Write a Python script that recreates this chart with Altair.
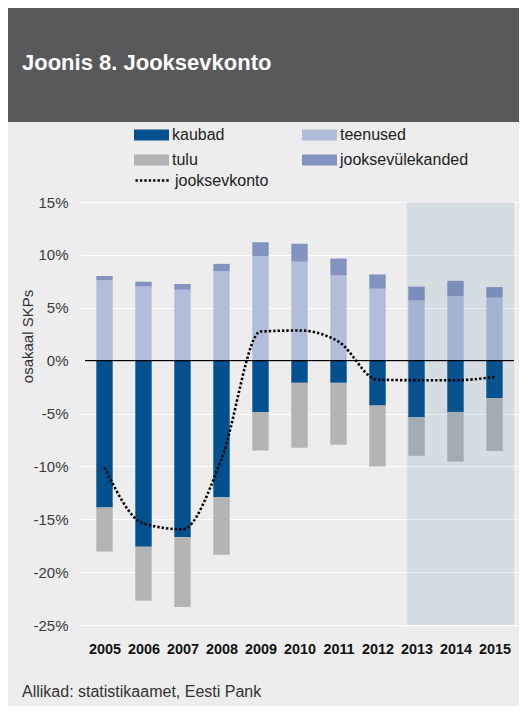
import altair as alt
import pandas as pd

FONT = "Liberation Sans"

# ---------------- data (percent of GDP) ----------------
years = [2005, 2006, 2007, 2008, 2009, 2010, 2011, 2012, 2013, 2014, 2015]
kaubad = [-13.9, -17.6, -16.7, -12.9, -4.85, -2.1, -2.1, -4.25, -5.35, -4.85, -3.55]
teenused = [7.6, 7.0, 6.7, 8.45, 9.9, 9.35, 8.05, 6.8, 5.7, 6.1, 5.95]
tulu = [-4.15, -5.1, -6.6, -5.45, -3.65, -6.15, -5.85, -5.75, -3.65, -4.7, -5.0]
ylekanded = [0.4, 0.45, 0.55, 0.7, 1.3, 1.7, 1.6, 1.35, 1.3, 1.45, 1.0]
jooksevkonto = [-10.1, -15.4, -15.95, -9.3, 2.75, 2.85, 1.8, -1.8, -1.85, -1.85, -1.55]

series = ["kaubad", "teenused", "tulu", "jooksevülekanded"]
series_colors = ["#02508e", "#b2bdd9", "#b3b4b6", "#8293bf"]
y_ticks = [-25, -20, -15, -10, -5, 0, 5, 10, 15]
forecast_start = 2012.75
x_min, x_max = 2004.5, 2015.5
title_text = "Joonis 8. Jooksevkonto"
source_text = "Allikad: statistikaamet, Eesti Pank"
y_title = "osakaal SKPs"

# ---------------- tables ----------------
rows = []
for name, vals in zip(series, [kaubad, teenused, tulu, ylekanded]):
    for yr, v in zip(years, vals):
        rows.append({"aasta": yr, "seeria": name, "väärtus": v, "järjekord": series.index(name)})
bar_df = pd.DataFrame(rows)
line_df = pd.DataFrame({"aasta": years, "jooksevkonto": jooksevkonto, "nimi": ["jooksevkonto"] * len(years)})
shade_df = pd.DataFrame({"algus": [forecast_start], "lõpp": [x_max], "ülemine": [y_ticks[-1]], "alumine": [y_ticks[0]]})
zero_df = pd.DataFrame({"algus": [x_min], "lõpp": [x_max], "null": [0]})
header_df = pd.DataFrame({"pealkiri": [title_text]})

W = 511
H_HEAD = 114
H_MAIN = 543
X_RANGE = [72, 511]
Y_RANGE = [503, 80]

xscale = alt.Scale(domain=[x_min, x_max], range=X_RANGE, nice=False, zero=False)
yscale = alt.Scale(domain=[y_ticks[0], y_ticks[-1]], range=Y_RANGE, nice=False, zero=False)

xaxis = alt.Axis(
    title=None, values=years, format="d", grid=False, domain=False, ticks=False, tickSize=0,
    offset=-(H_MAIN - Y_RANGE[0]), labelPadding=17, labelFont=FONT, labelFontSize=14.4,
    labelFontWeight="bold", labelColor="#111111", labelFlush=False, labelOverlap=False,
)
yaxis = alt.Axis(
    title=y_title, values=y_ticks, labelExpr="datum.value + '%'", grid=True, gridColor="#ffffff",
    gridWidth=1.2, domain=False, ticks=False, tickSize=0, offset=-X_RANGE[0], labelPadding=12,
    labelFont=FONT, labelFontSize=15, labelColor="#3c3c3c",
    titleFont=FONT, titleFontSize=15, titleFontWeight="normal", titleColor="#333333",
    titleAngle=270, titleX=-52.5, titleY=214, titleAlign="center", titleBaseline="middle",
)

bars = alt.Chart(bar_df).mark_bar(width=16.4).encode(
    x=alt.X("aasta:Q", scale=xscale, axis=xaxis),
    y=alt.Y("väärtus:Q", scale=yscale, axis=yaxis, stack="zero", title=y_title),
    color=alt.Color(
        "seeria:N",
        scale=alt.Scale(domain=series, range=series_colors),
        legend=alt.Legend(
            title=None, orient="none", legendX=133.5, legendY=117, columns=2, direction="horizontal",
            columnPadding=77, rowPadding=7, padding=0,
            symbolType="M-1.75,-0.55H1.75V0.55H-1.75Z", symbolSize=400,
            symbolStrokeWidth=0, labelOffset=10.5, labelFont=FONT, labelFontSize=16,
            labelColor="#222222", labelLimit=300,
        ),
    ),
    order=alt.Order("järjekord:Q"),
)

shade = alt.Chart(shade_df).mark_rect(color="#3a6aa0", opacity=0.12).encode(
    x=alt.X("algus:Q", title=None),
    x2="lõpp:Q",
    y=alt.Y("ülemine:Q", title=y_title),
    y2="alumine:Q",
)

zero = alt.Chart(zero_df).mark_rule(color="#000000", strokeWidth=1.3).encode(
    x=alt.X("algus:Q", title=None),
    x2="lõpp:Q",
    y=alt.Y("null:Q", title=y_title),
)

line = alt.Chart(line_df).mark_line(
    color="#000000", strokeWidth=2.6, interpolate="monotone", strokeCap="butt"
).encode(
    x=alt.X("aasta:Q", title=None),
    y=alt.Y("jooksevkonto:Q", title=y_title),
    strokeDash=alt.StrokeDash(
        "nimi:N",
        scale=alt.Scale(domain=["jooksevkonto"], range=[[2.4, 2.0]]),
        legend=alt.Legend(
            title=None, orient="none", legendX=133.5, legendY=161, padding=0,
            symbolType="M-1.75,0H1.75", symbolSize=400, symbolStrokeWidth=2.6,
            symbolStrokeColor="#000000", symbolFillColor="transparent", labelOffset=10.5,
            labelFont=FONT, labelFontSize=16, labelColor="#222222", labelLimit=300,
        ),
    ),
)

main = alt.layer(bars, shade, zero, line).properties(
    width=W, height=H_MAIN,
    title=alt.TitleParams(
        source_text, orient="bottom", anchor="start", frame="group", dx=14, offset=19,
        fontSize=16, fontWeight="normal", font=FONT, color="#333333", baseline="top",
    ),
)

header = alt.Chart(header_df).mark_text(
    align="left", baseline="middle", color="#ffffff", fontSize=22, fontWeight="bold", font=FONT
).encode(
    x=alt.value(14), y=alt.value(55), text="pealkiri:N"
).properties(
    width=W, height=H_HEAD, view=alt.ViewBackground(fill="#58595b", strokeWidth=0)
)

chart = alt.vconcat(header, main, spacing=0).properties(
    background="#ecedec",
    padding={"left": 0, "top": 0, "right": 0, "bottom": 6},
).configure_view(strokeWidth=0)

chart.save("out.html", embed_options={"renderer": "svg", "actions": False})
